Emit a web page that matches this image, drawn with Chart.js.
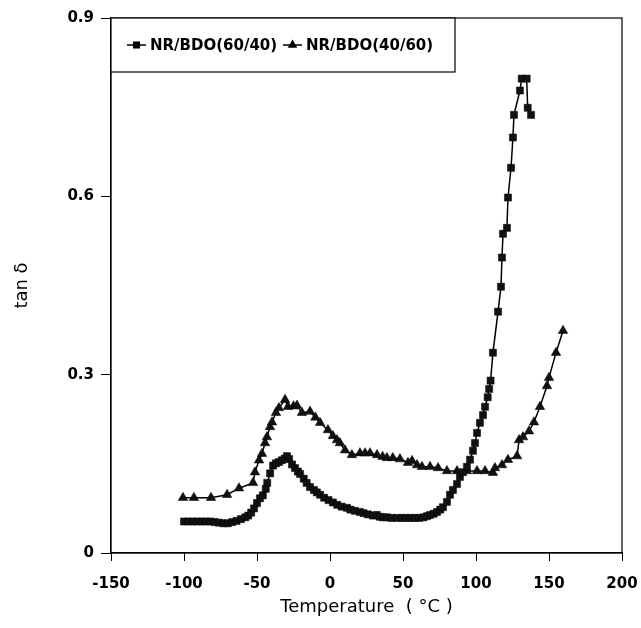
<!DOCTYPE html>
<html>
<head>
<meta charset="utf-8">
<script src="https://cdn.jsdelivr.net/npm/chart.js@4.4.1/dist/chart.umd.min.js"></script>
<style>
  html, body { margin: 0; padding: 0; background: #fff; }
  canvas { display: block; }
</style>
</head>
<body>
<canvas id="grafico" width="641" height="628"></canvas>
<script>
// NR/BDO(60/40) - quadrados
const tempSq = [-100, -97, -94, -91, -88, -85, -82, -79, -76, -73, -70, -67, -64, -61, -58, -56, -54, -52, -50, -48,
  -46, -44, -43, -41, -39, -37, -35, -33, -31, -29.5, -28, -26, -24, -22, -20.5, -18, -16, -13.7, -11, -9,
  -6.8, -4, -1, 2, 5, 8, 11.6, 14, 17, 20.5, 23, 26, 29.5, 32, 34, 36.3, 39, 42, 45.9, 49,
  52, 55, 58, 61, 64, 66.5, 68.5, 71, 73.3, 75.5, 77.4, 80.1, 82.2, 84.2, 87, 89, 91.1, 93.8, 95.9, 97.9,
  99.3, 100.7, 102.7, 104.8, 106.2, 108, 109, 110, 111.6, 115.1, 117.1, 117.8, 118.5, 121.2, 121.9, 124, 125.3, 126, 130.1, 131.3,
  134.7, 135.4, 137.7];
const tanSq = [0.053, 0.053, 0.053, 0.053, 0.053, 0.053, 0.053, 0.052, 0.051, 0.050, 0.050, 0.052, 0.054, 0.057, 0.060, 0.063, 0.068, 0.075, 0.084, 0.092,
  0.097, 0.108, 0.118, 0.134, 0.147, 0.151, 0.153, 0.156, 0.159, 0.163, 0.158, 0.149, 0.143, 0.137, 0.133, 0.125, 0.118, 0.111, 0.106, 0.102,
  0.098, 0.093, 0.089, 0.085, 0.081, 0.078, 0.076, 0.073, 0.071, 0.069, 0.067, 0.065, 0.063, 0.064, 0.061, 0.060, 0.060, 0.059, 0.059, 0.059,
  0.059, 0.059, 0.059, 0.059, 0.060, 0.062, 0.064, 0.066, 0.069, 0.073, 0.077, 0.086, 0.098, 0.106, 0.116, 0.128, 0.136, 0.145, 0.157, 0.172,
  0.185, 0.202, 0.219, 0.232, 0.246, 0.262, 0.276, 0.290, 0.337, 0.406, 0.448, 0.497, 0.537, 0.547, 0.598, 0.648, 0.699, 0.737, 0.778, 0.798,
  0.798, 0.749, 0.737];

// NR/BDO(40/60) - triangulos
const tempTri = [-100.7, -93.2, -81.5, -70.5, -62.3, -52.7, -51.4, -48.6, -46.6, -44.5, -43.2, -41.1, -39.7, -37, -35, -30.8, -28.8, -25, -22.6, -19.2,
  -13.7, -10, -6.8, -1.4, 2, 4.8, 6.8, 10.3, 15, 20.5, 24, 27.4, 32.2, 36, 39, 43, 47.9, 53.4, 56.2, 59.6,
  63, 68.5, 74, 80.1, 87, 93.8, 100.7, 106.2, 111.6, 113, 117.8, 121.9, 128.1, 129.5, 132.2, 136.3, 139.7, 143.8, 148.6, 150,
  154.8, 159.6];
const tanTri = [0.093, 0.093, 0.093, 0.098, 0.109, 0.118, 0.136, 0.156, 0.167, 0.185, 0.195, 0.212, 0.220, 0.236, 0.244, 0.258, 0.246, 0.247, 0.248, 0.236,
  0.238, 0.228, 0.219, 0.207, 0.197, 0.190, 0.185, 0.173, 0.165, 0.168, 0.168, 0.168, 0.165, 0.162, 0.160, 0.160, 0.158, 0.152, 0.155, 0.148,
  0.145, 0.145, 0.143, 0.138, 0.138, 0.138, 0.138, 0.138, 0.135, 0.143, 0.148, 0.157, 0.163, 0.190, 0.195, 0.205, 0.220, 0.246, 0.281, 0.295,
  0.337, 0.374];

const xTicks = [-150, -100, -50, 0, 50, 100, 150, 200];
const yTicks = [0, 0.3, 0.6, 0.9];
const legendLabels = ['NR/BDO(60/40)', 'NR/BDO(40/60)'];

const toPoints = (xs, ys) => xs.map((x, i) => ({ x: x, y: ys[i] }));

const dataTanDelta = {
  datasets: [
    {
      label: legendLabels[0],
      data: toPoints(tempSq, tanSq),
      borderColor: '#000',
      backgroundColor: '#111',
      borderWidth: 1.5,
      pointStyle: 'rect',
      pointRadius: 5,
      pointBorderWidth: 0.5,
      pointBorderColor: '#000',
      tension: 0
    },
    {
      label: legendLabels[1],
      data: toPoints(tempTri, tanTri),
      borderColor: '#000',
      backgroundColor: '#111',
      borderWidth: 1.5,
      pointStyle: 'triangle',
      pointRadius: 5.5,
      pointBorderWidth: 0.5,
      pointBorderColor: '#000',
      tension: 0
    }
  ]
};

// moldura do grafico e legenda dentro da area
const molduraPlugin = {
  id: 'moldura',
  afterDraw(chart) {
    const ctx = chart.ctx;
    const a = chart.chartArea;
    ctx.save();
    ctx.strokeStyle = '#000';
    ctx.lineWidth = 1.2;
    ctx.strokeRect(a.left, a.top, a.right - a.left, a.bottom - a.top);

    // caixa da legenda
    const bx = a.left, by = a.top, bw = 344, bh = 54;
    ctx.fillStyle = '#fff';
    ctx.fillRect(bx, by, bw, bh);
    ctx.strokeRect(bx, by, bw, bh);

    const cy = by + 27;
    const itens = [
      { x0: 127, text: legendLabels[0], style: 'rect', r: 5 },
      { x0: 283, text: legendLabels[1], style: 'triangle', r: 5.5 }
    ];
    ctx.font = 'bold 15px "DejaVu Sans"';
    ctx.textBaseline = 'middle';
    itens.forEach(it => {
      ctx.strokeStyle = '#000';
      ctx.lineWidth = 1.5;
      ctx.beginPath();
      ctx.moveTo(it.x0, cy);
      ctx.lineTo(it.x0 + 19, cy);
      ctx.stroke();
      ctx.fillStyle = '#000';
      Chart.helpers.drawPoint(ctx, { pointStyle: it.style, radius: it.r, borderWidth: 0 }, it.x0 + 9.5, cy);
      ctx.fillStyle = '#000';
      ctx.fillText(it.text, it.x0 + 23, cy + 1);
    });
    ctx.restore();
  }
};

const configTanDelta = {
  type: 'line',
  data: dataTanDelta,
  options: {
    responsive: false,
    animation: false,
    layout: { padding: { top: 18, right: 19, left: 0, bottom: 0 } },
    plugins: {
      legend: { display: false },
      tooltip: { enabled: false }
    },
    scales: {
      x: {
        type: 'linear',
        min: -150,
        max: 200,
        afterBuildTicks: s => { s.ticks = xTicks.map(v => ({ value: v })); },
        afterFit: s => { s.height = 75; s.paddingRight = 0; s.paddingLeft = 0; },
        grid: { drawOnChartArea: false, drawTicks: true, tickLength: 8, color: '#000', lineWidth: 1 },
        border: { display: true, color: '#000', width: 1.2 },
        ticks: {
          color: '#000',
          padding: 14,
          maxRotation: 0,
          font: { family: '"DejaVu Sans"', size: 15, weight: 'bold' }
        },
        title: {
          display: true,
          text: 'Temperature  ( \u00B0C )',
          color: '#000',
          font: { family: '"DejaVu Sans"', size: 18 },
          padding: { top: 0, bottom: 10 }
        }
      },
      y: {
        min: 0,
        max: 0.9,
        afterBuildTicks: s => { s.ticks = yTicks.map(v => ({ value: v })); },
        afterFit: s => { s.width = 111; },
        grid: { drawOnChartArea: false, drawTicks: true, tickLength: 10, color: '#000', lineWidth: 1 },
        border: { display: true, color: '#000', width: 1.2 },
        ticks: {
          color: '#000',
          padding: 7,
          font: { family: '"DejaVu Sans"', size: 15, weight: 'bold' },
          callback: v => (v === 0 ? '0' : v.toFixed(1))
        },
        title: {
          display: true,
          text: 'tan \u03B4',
          color: '#000',
          font: { family: '"DejaVu Sans"', size: 18 },
          padding: { top: 12, bottom: 0 }
        }
      }
    }
  },
  plugins: [molduraPlugin]
};

new Chart(document.getElementById('grafico'), configTanDelta);
</script>
</body>
</html>
